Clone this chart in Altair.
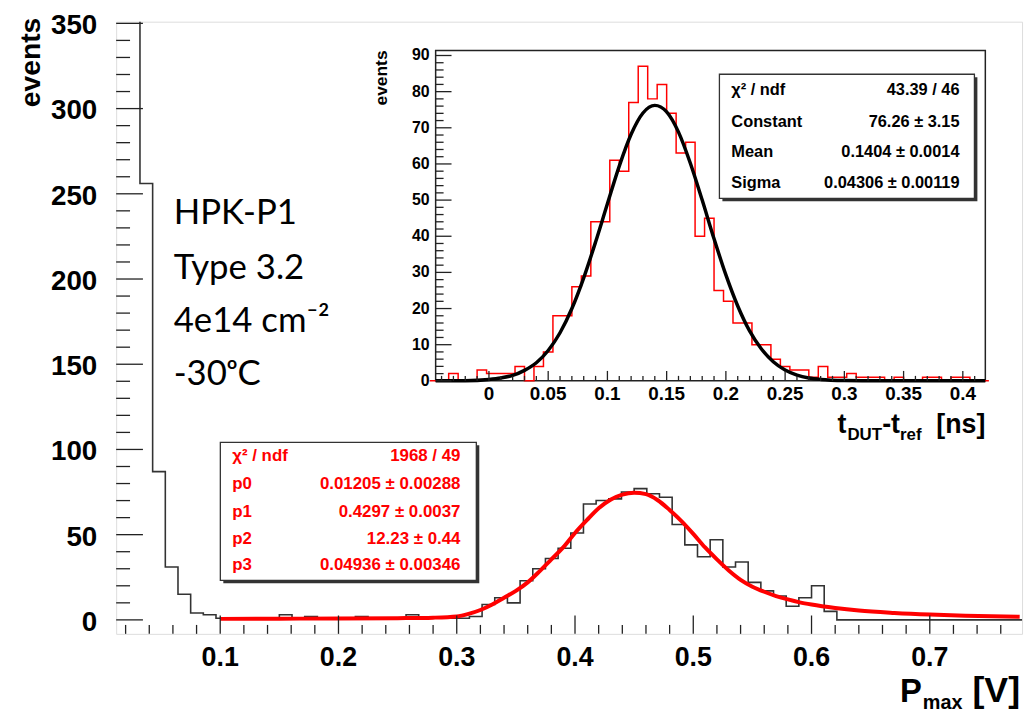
import altair as alt
import pandas as pd

# ---------------- data: main histogram (P_max [V]) ----------------
main_bin_start = 0.75 / 70          # lower edge of first drawn bin
main_bin_width = 0.75 / 70
main_counts = [1500, 520, 256, 87, 31, 15, 4, 3, 1, 1,
               1, 1, 1, 3, 1, 2, 1, 1, 1, 2,
               1, 1, 1, 3, 1, 1, 1, 1, 2, 9,
               13, 10, 23, 30, 36, 42, 51, 68, 70, 71,
               75, 77, 74, 72, 56, 44, 37, 47, 31, 34,
               22, 17, 14, 8, 13, 20, 5, 0, 0, 0,
               0, 0, 0, 0, 0, 0, 0, 0, 0, 0,
               0, 0]

# red fit curve
main_fit_x = [0.10, 0.15, 0.20, 0.25, 0.28, 0.30, 0.31, 0.32, 0.33, 0.34,
              0.35, 0.36, 0.37, 0.38, 0.39, 0.40, 0.41, 0.42, 0.43, 0.44,
              0.45, 0.46, 0.47, 0.48, 0.49, 0.50, 0.51, 0.52, 0.53, 0.54,
              0.55, 0.56, 0.57, 0.58, 0.59, 0.60, 0.62, 0.64, 0.67, 0.70,
              0.73, 0.776]
main_fit_y = [0.6, 0.7, 0.8, 1.0, 1.3, 2.0, 3.5, 5.8, 9.0, 13.0,
              17.0, 22.0, 28.5, 35.5, 42.5, 51.0, 58.5, 65.5, 70.5, 73.5,
              74.6, 73.8, 70.2, 64.5, 58.0, 50.5, 42.5, 35.5, 29.0, 23.5,
              19.5, 16.5, 14.0, 12.0, 10.3, 9.0, 7.0, 5.5, 4.1, 3.1,
              2.4, 1.8]

# ---------------- data: inset histogram (t_DUT - t_ref [ns]) ----------------
inset_bin_start = -0.050
inset_bin_width = 0.008
inset_counts = [0, 0, 2, 0, 0, 3, 2, 2, 2, 4,
                0, 4, 8, 18, 18, 26, 29, 44, 44, 61,
                58, 77, 87, 78, 82, 74, 63, 66, 40, 45,
                25, 22, 16, 16, 10, 10, 6, 4, 3, 3,
                1, 4, 1, 1, 2, 1, 1, 1, 0, 1,
                0, 0, 1, 1, 0, 1, 1, 0, 0]

inset_fit_x = [-0.045, -0.02, 0.0, 0.01, 0.02, 0.03, 0.04, 0.05, 0.06, 0.07,
               0.08, 0.09, 0.10, 0.11, 0.12, 0.13, 0.14, 0.15, 0.16, 0.17,
               0.18, 0.19, 0.20, 0.21, 0.22, 0.23, 0.24, 0.25, 0.26, 0.27,
               0.28, 0.30, 0.33, 0.419]
inset_fit_y = [0.0, 0.05, 0.4, 0.8, 1.5, 2.9, 5.0, 8.4, 13.3, 20.0,
               28.5, 38.4, 49.0, 59.4, 68.2, 74.1, 76.2, 74.4, 68.8, 60.2,
               50.0, 39.3, 29.3, 20.7, 13.8, 8.8, 5.3, 3.0, 1.6, 0.8,
               0.4, 0.1, 0.0, 0.0]

# tick values and labels
main_x_major = [0.1, 0.2, 0.3, 0.4, 0.5, 0.6, 0.7]
main_x_labels = ["0.1", "0.2", "0.3", "0.4", "0.5", "0.6", "0.7"]
main_x_minor = [0.02, 0.04, 0.06, 0.08, 0.12, 0.14, 0.16, 0.18, 0.22, 0.24, 0.26, 0.28,
                0.32, 0.34, 0.36, 0.38, 0.42, 0.44, 0.46, 0.48, 0.52, 0.54, 0.56, 0.58,
                0.62, 0.64, 0.66, 0.68, 0.72, 0.74, 0.76]
main_y_major = [0, 50, 100, 150, 200, 250, 300, 350]
main_y_labels = ["0", "50", "100", "150", "200", "250", "300", "350"]
main_y_minor = [10, 20, 30, 40, 60, 70, 80, 90, 110, 120, 130, 140, 160, 170, 180, 190,
                210, 220, 230, 240, 260, 270, 280, 290, 310, 320, 330, 340]
inset_x_major = [0, 0.05, 0.1, 0.15, 0.2, 0.25, 0.3, 0.35, 0.4]
inset_x_labels = ["0", "0.05", "0.1", "0.15", "0.2", "0.25", "0.3", "0.35", "0.4"]
inset_x_minor = [-0.04, -0.03, -0.02, -0.01, 0.01, 0.02, 0.03, 0.04, 0.06, 0.07, 0.08, 0.09,
                 0.11, 0.12, 0.13, 0.14, 0.16, 0.17, 0.18, 0.19, 0.21, 0.22, 0.23, 0.24,
                 0.26, 0.27, 0.28, 0.29, 0.31, 0.32, 0.33, 0.34, 0.36, 0.37, 0.38, 0.39, 0.41]
inset_y_major = [0, 10, 20, 30, 40, 50, 60, 70, 80, 90]
inset_y_labels = ["0", "10", "20", "30", "40", "50", "60", "70", "80", "90"]
inset_y_minor = [2, 4, 6, 8, 12, 14, 16, 18, 22, 24, 26, 28, 32, 34, 36, 38, 42, 44, 46, 48,
                 52, 54, 56, 58, 62, 64, 66, 68, 72, 74, 76, 78, 82, 84, 86, 88]

main_stats_labels = ["χ² / ndf", "p0", "p1", "p2", "p3"]
main_stats_values = ["1968 / 49", "0.01205 ± 0.00288", "0.4297 ± 0.0037",
                     "12.23 ± 0.44", "0.04936 ± 0.00346"]
inset_stats_labels = ["χ² / ndf", "Constant", "Mean", "Sigma"]
inset_stats_values = ["43.39 / 46", "76.26 ± 3.15", "0.1404 ± 0.0014",
                      "0.04306 ± 0.00119"]
sample_lines = ["HPK-P1", "Type 3.2", "4e14 cm⁻²", "-30ᵒC"]

# ---------------- geometry / styles ----------------
W, H = 913, 617
IX0, IX1, IY0, IY1 = 322, 876, 29, 362      # inset frame in plot pixels
NUM_FONT = "Liberation Sans, Arial, Helvetica"
ANN_FONT = "Lato"
FRAME = "#222222"

# ---------------- tables ----------------
m_edges = [main_bin_start + i * main_bin_width for i in range(len(main_counts) + 1)]
main_df = pd.DataFrame({"x": m_edges, "y": main_counts + [main_counts[-1]]})
mfit_df = pd.DataFrame({"x": main_fit_x, "y": main_fit_y})
i_edges = [inset_bin_start + i * inset_bin_width for i in range(len(inset_counts) + 1)]
inset_df = pd.DataFrame({"x": i_edges, "y": inset_counts + [inset_counts[-1]]})
ifit_df = pd.DataFrame({"x": inset_fit_x, "y": inset_fit_y})

mx = alt.Scale(domain=[0.012, 0.778], nice=False, zero=False)
my = alt.Scale(domain=[-8.2, 351], nice=False, zero=False)
ix = alt.Scale(domain=[-0.045, 0.419], nice=False, zero=False, range=[IX0, IX1])
iy = alt.Scale(domain=[0, 91.4], nice=False, zero=False, range=[IY1, IY0])


def vrules(vals, scale, y0, y1, color=FRAME):
    return alt.Chart(pd.DataFrame({"v": vals})).mark_rule(color=color, strokeWidth=1.3).encode(
        x=alt.X("v:Q", scale=scale, axis=None), y=alt.value(y0), y2=alt.value(y1))


def hrules(vals, scale, x0, x1, color=FRAME):
    return alt.Chart(pd.DataFrame({"v": vals})).mark_rule(color=color, strokeWidth=1.3).encode(
        y=alt.Y("v:Q", scale=scale, axis=None), x=alt.value(x0), x2=alt.value(x1))


def xlabels(vals, texts, scale, y, size):
    return alt.Chart(pd.DataFrame({"v": vals, "t": texts})).mark_text(
        font=NUM_FONT, fontSize=size, fontWeight="bold", color="black",
        align="center", baseline="middle").encode(
        x=alt.X("v:Q", scale=scale, axis=None), y=alt.value(y), text="t:N")


def ylabels(vals, texts, scale, x, size, dy=0):
    return alt.Chart(pd.DataFrame({"v": vals, "t": texts})).mark_text(
        font=NUM_FONT, fontSize=size, fontWeight="bold", color="black",
        align="right", baseline="middle", dy=dy).encode(
        y=alt.Y("v:Q", scale=scale, axis=None), x=alt.value(x), text="t:N")


def label(text, x, y, size, font=NUM_FONT, weight="bold", color="black", align="left",
          baseline="middle", angle=0):
    kw = dict(text=text, font=font, fontSize=size, fontWeight=weight, color=color,
              align=align, baseline=baseline)
    if angle:
        kw["angle"] = angle
    return alt.Chart(pd.DataFrame({"a": [0]})).mark_text(**kw).encode(
        x=alt.value(x), y=alt.value(y))


def box(x0, y0, x1, y1, shadow=3):
    sh = alt.Chart(pd.DataFrame({"a": [0]})).mark_rect(color="#333333").encode(
        x=alt.value(x0 + shadow), x2=alt.value(x1 + shadow),
        y=alt.value(y0 + shadow), y2=alt.value(y1 + shadow))
    fr = alt.Chart(pd.DataFrame({"a": [0]})).mark_rect(
        fill="white", stroke="#333333", strokeWidth=1.3).encode(
        x=alt.value(x0), x2=alt.value(x1), y=alt.value(y0), y2=alt.value(y1))
    return [sh, fr]


# ---------------- main panel ----------------
main_hist = alt.Chart(main_df).mark_line(
    interpolate="step-after", color="#333333", strokeWidth=1.6, clip=True).encode(
    x=alt.X("x:Q", scale=mx, axis=None), y=alt.Y("y:Q", scale=my, axis=None))

main_fit = alt.Chart(mfit_df).mark_line(
    interpolate="monotone", color="#ff0000", strokeWidth=4, clip=True).encode(
    x=alt.X("x:Q", scale=mx, axis=None), y=alt.Y("y:Q", scale=my, axis=None))

main_layers = [main_hist, main_fit,
               vrules(main_x_major, mx, H, H - 18.5), vrules(main_x_minor, mx, H, H - 9),
               hrules(main_y_major, my, 0, 27), hrules(main_y_minor, my, 0, 14),
               xlabels(main_x_major, main_x_labels, mx, 641, 27),
               ylabels(main_y_major, main_y_labels, my, -19, 28, dy=3)]

# sample description (PowerPoint text)
ann_x = 58
for txt, yy in zip(sample_lines, [204, 259, 313, 366]):
    main_layers.append(label(txt, ann_x, yy, 35, font=ANN_FONT, weight="normal",
                             baseline="alphabetic"))

# axis titles
main_layers += [label("events", -86, -4, 28.5, angle=270, align="right"),
                label("P", 790, 686, 33, baseline="alphabetic"),
                label("max", 813, 693, 20, baseline="alphabetic"),
                label("[V]", W - 2, 686, 36, align="right", baseline="alphabetic")]

# main stats box
bx0, by0, bx1, by1 = 105, 424, 363, 563
main_layers += box(bx0, by0, bx1, by1)
row_y = [438, 466, 494, 521, 548]
for lab, val, yy in zip(main_stats_labels, main_stats_values, row_y):
    main_layers.append(label(lab, bx0 + 12, yy, 17, color="#ff0000"))
    main_layers.append(label(val, bx1 - 16, yy, 17, color="#ff0000", align="right"))

main_panel = alt.layer(*main_layers)

# ---------------- inset panel ----------------
inset_frame = alt.Chart(pd.DataFrame({"a": [0]})).mark_rect(
    fill="white", stroke=FRAME, strokeWidth=1.5).encode(
    x=alt.value(IX0), x2=alt.value(IX1), y=alt.value(IY0), y2=alt.value(IY1))

inset_hist = alt.Chart(inset_df).mark_line(
    interpolate="step-after", color="#ff0000", strokeWidth=1.5, clip=True).encode(
    x=alt.X("x:Q", scale=ix, axis=None), y=alt.Y("y:Q", scale=iy, axis=None))

inset_fit = alt.Chart(ifit_df).mark_line(
    interpolate="monotone", color="black", strokeWidth=3.5, clip=True).encode(
    x=alt.X("x:Q", scale=ix, axis=None), y=alt.Y("y:Q", scale=iy, axis=None))

inset_layers = [inset_frame, inset_hist, inset_fit,
                vrules(inset_x_major, ix, IY1, IY1 - 10), vrules(inset_x_minor, ix, IY1, IY1 - 5),
                hrules(inset_y_major, iy, IX0, IX0 + 16), hrules(inset_y_minor, iy, IX0, IX0 + 8),
                xlabels(inset_x_major, inset_x_labels, ix, 375, 19),
                ylabels(inset_y_major, inset_y_labels, iy, 316, 16)]

sx0, sy0, sx1, sy1 = 608, 53, 865, 178
inset_layers += box(sx0, sy0, sx1, sy1)
irow_y = [69, 101, 131, 163]
for lab, val, yy in zip(inset_stats_labels, inset_stats_values, irow_y):
    inset_layers.append(label(lab, sx0 + 12, yy, 16.5))
    inset_layers.append(label(val, sx1 - 15, yy, 16.5, align="right"))

inset_layers += [label("events", 268, IY0, 17.5, angle=270, align="right"),
                 label("t", 727, 415, 27, baseline="alphabetic"),
                 label("DUT", 737, 422, 17, baseline="alphabetic"),
                 label("-t", 772, 415, 27, baseline="alphabetic"),
                 label("ref", 790, 422, 17, baseline="alphabetic"),
                 label("[ns]", IX1, 415, 27, align="right", baseline="alphabetic")]

inset_panel = alt.layer(*inset_layers)

chart = alt.layer(main_panel, inset_panel).resolve_scale(
    x="independent", y="independent").properties(
    width=W, height=H, autosize=alt.AutoSizeParams(type="none"),
    padding={"left": 109, "top": 11, "right": 5, "bottom": 78}
).configure_view(stroke=FRAME, strokeWidth=1.5).configure(background="white")

chart.save("out.html", embed_options={"renderer": "svg", "actions": False})
